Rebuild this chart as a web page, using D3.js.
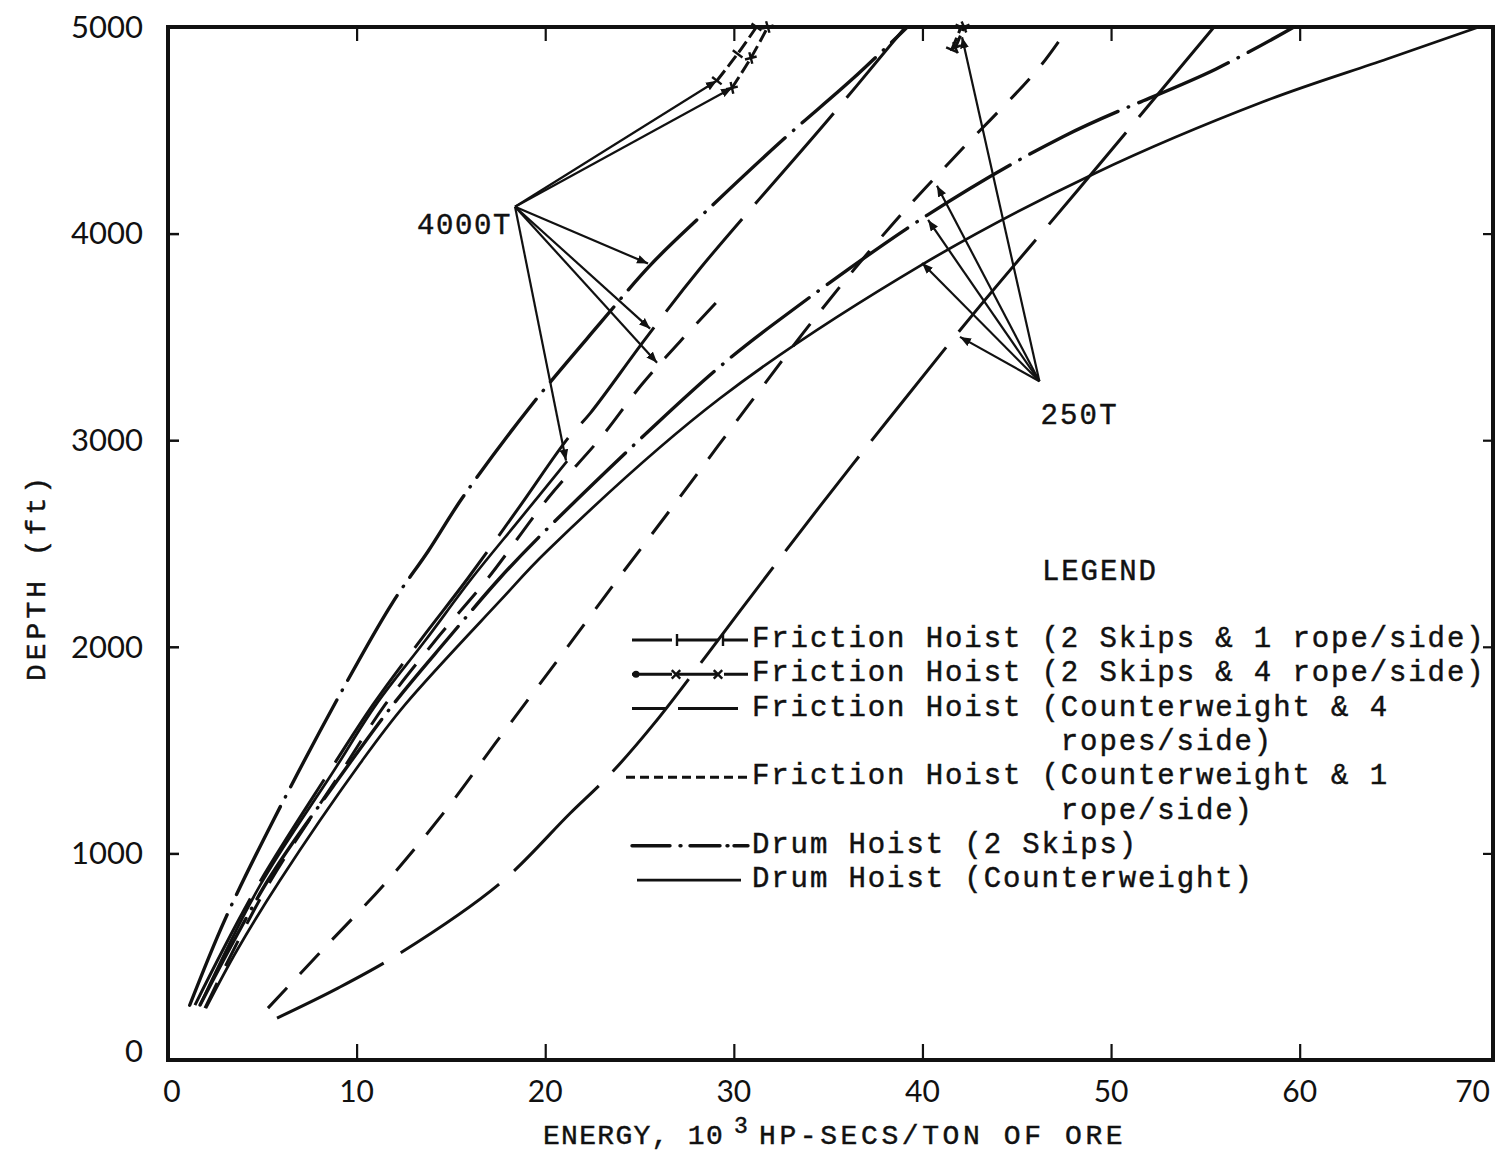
<!DOCTYPE html>
<html><head><meta charset="utf-8">
<script src="https://cdn.jsdelivr.net/npm/d3@7/dist/d3.min.js"></script>
<style>
body{margin:0;background:#fff;}
svg{display:block;}
</style>
</head><body>
<svg id="chart" width="1497" height="1154"></svg>
<script>
// ---------- tick values ----------
const xTickLabels = [0,10,20,30,40,50,60,70];
const yTickLabels = [0,1000,2000,3000,4000,5000];
const xInnerTicks = [10,20,30,40,50,60];
const yInnerTicks = [1000,2000,3000,4000];

// ---------- series: [energy (10^3 HP-secs/ton), depth (ft)] ----------
// 4000 T/day group
const drumSkips4000   = [[1.15,265],[3.0,676],[5.5,1145],[9.3,1800],[11.9,2213],[13.8,2464],[15.6,2720],[19.1,3150],[22.9,3565],[25.6,3850],[28.4,4097],[32.6,4454],[36.3,4749],[39.2,5000]];
const drumCW4000      = [[1.7,266],[4.88,845],[8.8,1401],[11.03,1720],[13.63,2029],[16.12,2333],[18.66,2618],[21.16,2899]];
const frictionCW4_4000 = [[1.43,266],[4.61,821],[8.59,1401],[10.87,1720],[13.36,2029],[15.91,2333],[18.66,2681],[21.21,3010],[22.38,3130],[25.29,3488],[28.21,3831],[35.0,4551],[39.1,5000]];
const frictionCW1_4000 = [[1.96,251],[5.14,821],[9.23,1401],[11.51,1720],[14.16,2029],[16.97,2333],[20.15,2720],[23.01,3019],[25.13,3271],[27.15,3478],[29.27,3686]];
const friction2S1_4000 = [[29.1,4740],[30.2,4870],[31.2,5000]];
const friction2S4_4000 = [[29.9,4705],[30.9,4850],[31.8,5000]];
// 250 T/day group
const drumSkips250    = [[1.7,266],[5.3,870],[8.75,1324],[11.93,1720],[14.79,2034],[17.6,2333],[19.83,2546],[25.93,3082],[29.27,3357],[32.08,3560],[40.3,4092],[47.45,4469],[55.57,4797],[59.7,5000]];
const drumCW250       = [[2.01,251],[3.66,531],[5.94,870],[10.3,1450],[12.57,1720],[17.6,2222],[20.1,2464],[29.27,3203],[39.98,3850],[49.1,4290],[58.06,4638],[64.63,4845],[69.5,5000]];
const frictionCW4_250 = [[5.78,203],[9.01,348],[12.3,517],[17.6,855],[21.31,1193],[23.38,1377],[25.77,1628],[30.33,2174],[34.57,2681],[38.12,3092],[42.68,3609],[48.3,4217],[55.46,5000]];
const frictionCW1_250 = [[5.3,251],[8.17,531],[11.66,870],[14.79,1217],[17.34,1531],[20.63,1932],[23.86,2329],[26.78,2681],[30.86,3179],[34.57,3623],[38.39,4043],[41.9,4390],[46.13,4797],[47.75,5000]];
const friction2S1_250 = [[41.55,4890],[42.05,5000]];
const friction2S4_250 = [[41.75,4900],[42.2,5000]];

// ---------- annotations ----------
const label4000 = "4000T";
const anchor4000 = [18.4,4130];
const targets4000 = [[29.1,4740],[29.9,4705],[25.45,3855],[25.56,3540],[25.93,3375],[21.1,2902]];
const label250 = "250T";
const anchor250 = [46.2,3285];
const targets250 = [[42.1,4950],[40.77,4232],[40.3,4066],[39.98,3858],[41.99,3500]];

// ---------- legend ----------
const legendTitle = "LEGEND";
const legendTypes = ["fr1","fr4","cw4","cw1","drumSkips","drumCW"];
const legendLines = [
  ["Friction Hoist (2 Skips & 1 rope/side)"],
  ["Friction Hoist (2 Skips & 4 rope/side)"],
  ["Friction Hoist (Counterweight & 4","ropes/side)"],
  ["Friction Hoist (Counterweight & 1","rope/side)"],
  ["Drum Hoist (2 Skips)"],
  ["Drum Hoist (Counterweight)"]
];
const xTitleParts = ["ENERGY, 10","3","HP-SECS/TON OF ORE"];
const yTitle = "DEPTH (ft)";

// ---------- build table ----------
const series = [
  {type:"drumSkips", data:drumSkips4000},
  {type:"drumCW",    data:drumCW4000},
  {type:"cw4",       data:frictionCW4_4000},
  {type:"cw1",       data:frictionCW1_4000},
  {type:"fr1",       data:friction2S1_4000},
  {type:"fr4",       data:friction2S4_4000},
  {type:"drumSkips", data:drumSkips250},
  {type:"drumCW",    data:drumCW250},
  {type:"cw4",       data:frictionCW4_250},
  {type:"cw1",       data:frictionCW1_250},
  {type:"fr1",       data:friction2S1_250},
  {type:"fr4",       data:friction2S4_250}
];

const styles = {
  fr1:{dash:"13 5", w:3, cap:"butt"},
  fr4:{dash:"13 5", w:3, cap:"butt"},
  cw4:{dash:"120 20", w:3, cap:"butt"},
  cw1:{dash:"28 19", w:3, cap:"butt"},
  drumSkips:{dash:"98 11 0.5 11", w:3.4, cap:"round"},
  drumCW:{dash:null, w:2.7, cap:"butt"}
};
const legendDash = {cw4:"34 12 60", cw1:"9 5", drumSkips:"38 10 1 9 30 7 1 6 20", fr1:"40 6", fr4:"40 6"};

// ---------- layout ----------
const svg = d3.select("#chart");
const L = 168, R = 1493, T = 27, B = 1060;
const x = d3.scaleLinear().domain([0,70.25]).range([L,R]);
const y = d3.scaleLinear().domain([0,5000]).range([B,T]);
const tFont = "'Liberation Mono','DejaVu Sans Mono',monospace";
const nFont = "Lato,'Open Sans',sans-serif";

svg.append("rect").attr("width",1497).attr("height",1154).attr("fill","#fff");

// frame
svg.append("rect").attr("x",L).attr("y",T).attr("width",R-L).attr("height",B-T)
  .attr("fill","none").attr("stroke","#111").attr("stroke-width",4);

// inner ticks via d3 axes
svg.append("g").attr("transform",`translate(0,${B})`)
  .call(d3.axisTop(x).tickValues(xInnerTicks).tickSize(16).tickFormat(""))
  .call(g=>g.select(".domain").remove())
  .call(g=>g.selectAll("line").attr("stroke","#111").attr("stroke-width",2.2));
svg.append("g").attr("transform",`translate(0,${T})`)
  .call(d3.axisBottom(x).tickValues(xInnerTicks).tickSize(14).tickFormat(""))
  .call(g=>g.select(".domain").remove())
  .call(g=>g.selectAll("line").attr("stroke","#111").attr("stroke-width",2.2));
svg.append("g").attr("transform",`translate(${L},0)`)
  .call(d3.axisRight(y).tickValues(yInnerTicks).tickSize(11).tickFormat(""))
  .call(g=>g.select(".domain").remove())
  .call(g=>g.selectAll("line").attr("stroke","#111").attr("stroke-width",2.5));
svg.append("g").attr("transform",`translate(${R},0)`)
  .call(d3.axisLeft(y).tickValues(yInnerTicks).tickSize(10).tickFormat(""))
  .call(g=>g.select(".domain").remove())
  .call(g=>g.selectAll("line").attr("stroke","#111").attr("stroke-width",2.2));

// tick labels
svg.append("g").selectAll("text").data(yTickLabels).join("text")
  .attr("x",L-25).attr("y",d=>y(d)-(d===0?9:0)).attr("dy","0.35em")
  .attr("text-anchor","end").attr("font-family",nFont).attr("font-size",31)
  .attr("fill","#111").text(d=>d);
const lastX = xTickLabels[xTickLabels.length-1];
svg.append("g").selectAll("text").data(xTickLabels).join("text")
  .attr("x",d=>d===lastX ? R-3 : x(d)+(d===0?4:0)).attr("y",B+31).attr("dy","0.35em")
  .attr("text-anchor",d=>d===lastX?"end":"middle").attr("font-family",nFont).attr("font-size",30)
  .attr("fill","#111").text(d=>d);

// typewriter text helper styling
function tw(sel,size,ls){
  return sel.attr("font-family",tFont).attr("font-size",size).attr("letter-spacing",ls)
    .attr("fill","#111").attr("stroke","#111").attr("stroke-width",0.45);
}

// axis titles
const xt = tw(svg.append("text"),28,1.3);
xt.append("tspan").attr("x",543).attr("y",1144).text(xTitleParts[0]);
xt.append("tspan").attr("x",734).attr("y",1133).attr("font-size",23).text(xTitleParts[1]);
xt.append("tspan").attr("x",759).attr("y",1144).attr("letter-spacing",3.6).text(xTitleParts[2]);

tw(svg.append("text"),28,4).attr("transform","translate(45,577) rotate(-90)")
  .attr("text-anchor","middle").text(yTitle);

// arrow marker
const defs = svg.append("defs");
defs.append("marker").attr("id","ah").attr("viewBox","0 0 10 8")
  .attr("refX",10).attr("refY",4).attr("markerWidth",11).attr("markerHeight",9)
  .attr("markerUnits","userSpaceOnUse").attr("orient","auto")
  .append("path").attr("d","M0,0 L10,4 L0,8 Z").attr("fill","#111");

// curves
const line = d3.line().x(d=>x(d[0])).y(d=>y(d[1])).curve(d3.curveCatmullRom.alpha(0.5));
const gC = svg.append("g");
series.forEach(s=>{
  const st = styles[s.type];
  gC.append("path").attr("d",line(s.data)).attr("fill","none")
    .attr("stroke","#111").attr("stroke-width",st.w)
    .attr("stroke-linecap",st.cap).attr("stroke-linejoin","round")
    .attr("stroke-dasharray",st.dash);
});

// markers on friction 2-skip stubs
function drawMarker(g,type,px,py,ang){
  if(type==="fr1"){
    const dx=Math.cos(ang+Math.PI/2)*6, dy=Math.sin(ang+Math.PI/2)*6;
    g.append("line").attr("x1",px-dx).attr("y1",py-dy).attr("x2",px+dx).attr("y2",py+dy)
      .attr("stroke","#111").attr("stroke-width",2.4);
  } else if(type==="fr4"){
    [Math.PI/4,-Math.PI/4].forEach(o=>{
      const dx=Math.cos(ang+Math.PI/2+o)*6, dy=Math.sin(ang+Math.PI/2+o)*6;
      g.append("line").attr("x1",px-dx).attr("y1",py-dy).attr("x2",px+dx).attr("y2",py+dy)
        .attr("stroke","#111").attr("stroke-width",2.4);
    });
  }
}
series.filter(s=>s.type==="fr1"||s.type==="fr4").forEach(s=>{
  const d = s.data;
  d.forEach((p,i)=>{
    const q = d[Math.min(i+1,d.length-1)], r = d[Math.max(i-1,0)];
    const ang = Math.atan2(y(q[1])-y(r[1]), x(q[0])-x(r[0]));
    drawMarker(gC,s.type,x(p[0]),y(p[1]),ang);
  });
});

// annotations
const gA = svg.append("g");
function arrows(anchor,targets){
  targets.forEach(t=>{
    gA.append("line").attr("x1",x(anchor[0])).attr("y1",y(anchor[1]))
      .attr("x2",x(t[0])).attr("y2",y(t[1]))
      .attr("stroke","#111").attr("stroke-width",2.2).attr("marker-end","url(#ah)");
  });
}
arrows(anchor4000,targets4000);
arrows(anchor250,targets250);
tw(gA.append("text"),29,1.6).attr("x",x(anchor4000[0])-3).attr("y",y(anchor4000[1])+27)
  .attr("text-anchor","end").text(label4000);
tw(gA.append("text"),29,2.2).attr("x",x(anchor250[0])+1).attr("y",y(anchor250[1])+43)
  .text(label250);

// legend
const gL = tw(svg.append("g"),29,1.9);
const charW = 19.3, textX = 752, base0 = 647, lineH = 34.3;
gL.append("text").attr("x",1042).attr("y",580).text(legendTitle);
let li = 0;
legendLines.forEach((rows,k)=>{
  const type = legendTypes[k];
  const by = base0 + li*lineH;
  const sy = by - 7;
  const x1 = type==="cw1"?626:(type==="drumCW"?637:632), x2 = type==="drumCW"?741:748;
  const st = styles[type];
  gL.append("line").attr("x1",x1).attr("x2",x2).attr("y1",sy).attr("y2",sy)
    .attr("stroke","#111").attr("stroke-width",st.w)
    .attr("stroke-linecap",st.cap).attr("stroke-dasharray",legendDash[type]||null);
  if(type==="fr1"){ [677,723].forEach(px=>drawMarker(gL,"fr1",px,sy,0)); }
  if(type==="fr4"){
    gL.append("circle").attr("cx",636).attr("cy",sy).attr("r",3.5).attr("stroke","none");
    [676,718].forEach(px=>drawMarker(gL,"fr4",px,sy,0));
  }
  rows.forEach((r,j)=>{
    gL.append("text").attr("x", j===0?textX:textX+16*charW).attr("y",by+j*lineH).text(r);
  });
  li += rows.length;
});
</script>
</body></html>
